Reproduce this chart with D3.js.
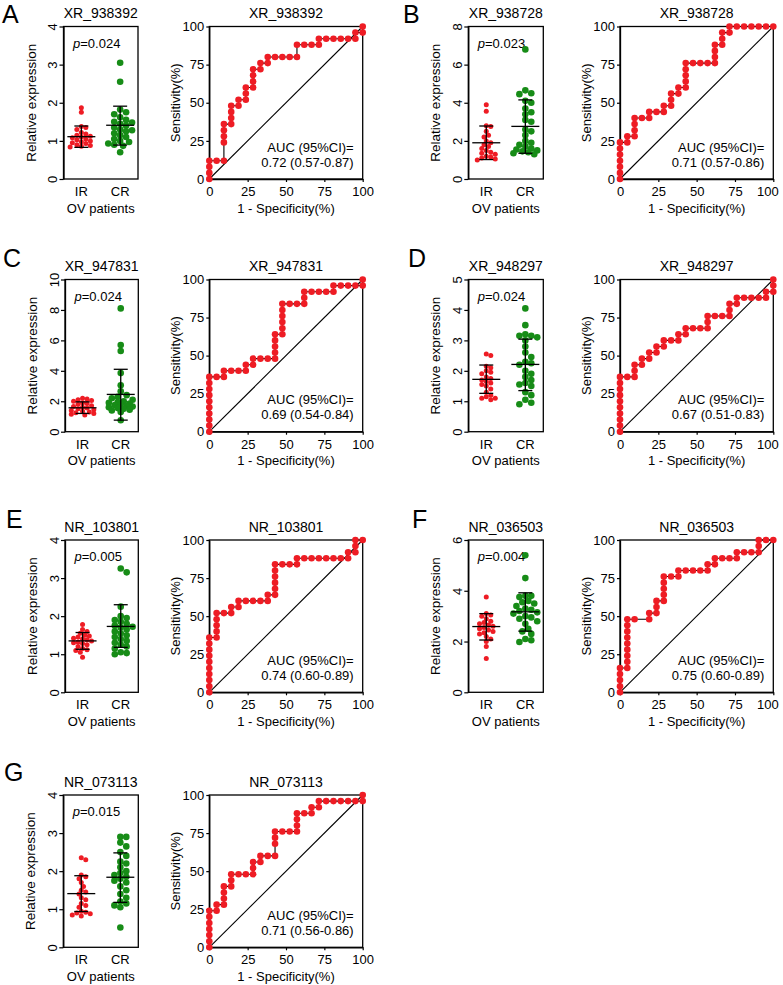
<!DOCTYPE html>
<html><head><meta charset="utf-8">
<script src="https://cdn.jsdelivr.net/npm/d3@7"></script>
<style>
body{margin:0;background:#fff}
svg{display:block}
text{font-family:"Liberation Sans",Arial,Helvetica,sans-serif;fill:#000}
</style>
</head><body>
<svg id="chart" width="783" height="985"></svg>
<script>
// ---------------- DATA ----------------
const panelLetters = ["A","B","C","D","E","F","G"];
const geneNames = ["XR_938392","XR_938728","XR_947831","XR_948297","NR_103801","NR_036503","NR_073113"];
const groupNames = ["IR","CR"];
const pValues = ["0.024","0.023","0.024","0.024","0.005","0.004","0.015"];
const aucValues = ["0.72 (0.57-0.87)","0.71 (0.57-0.86)","0.69 (0.54-0.84)","0.67 (0.51-0.83)","0.74 (0.60-0.89)","0.75 (0.60-0.89)","0.71 (0.56-0.86)"];
const exprMax = [4,8,10,5,4,6,4];
const exprStep = [1,2,2,1,1,2,1];
const rocTicks = [0,25,50,75,100];

// relative expression values
const irA = [1.87,1.75,1.38,1.35,1.3,1.22,1.18,1.15,1.12,1.1,1.08,1.05,1.03,1.0,0.98,0.95,0.93,0.9,0.88,0.86,0.84];
const crA = [3.05,2.55,1.82,1.75,1.7,1.62,1.55,1.5,1.45,1.4,1.35,1.3,1.25,1.2,1.15,1.1,1.05,1.0,0.97,0.93,0.9,0.87,1.48,1.28,0.7];
const irB = [3.9,3.55,2.8,2.75,2.5,2.3,2.2,2.0,1.9,1.8,1.7,1.6,1.5,1.4,1.35,1.3,1.2,1.15,1.1,1.05,1.0];
const crB = [6.8,4.65,4.5,4.45,4.1,4.0,3.7,3.5,3.4,3.1,3.0,2.6,2.5,2.3,2.0,1.9,1.8,1.7,1.6,1.55,1.5,1.45,1.4,1.35,1.3];
const irC = [2.2,2.15,2.1,2.05,2.0,1.9,1.85,1.8,1.7,1.65,1.6,1.55,1.5,1.45,1.4,1.35,1.3,1.25,1.2,1.15,1.1];
const crC = [8.1,5.7,5.3,3.85,3.05,2.65,2.4,2.3,2.2,2.1,2.0,1.95,1.9,1.85,1.8,1.75,1.7,1.65,1.6,1.55,1.5,1.45,1.4,1.3,0.75];
const irD = [2.55,2.5,2.15,2.1,2.0,1.95,1.9,1.8,1.75,1.7,1.65,1.6,1.55,1.5,1.4,1.3,1.2,1.15,1.1,1.1,1.05];
const crD = [4.05,3.5,3.2,3.15,3.15,3.1,3.0,2.8,2.6,2.45,2.3,2.25,2.2,2.0,1.9,1.8,1.7,1.6,1.55,1.5,1.3,1.2,1.05,0.95,0.9];
const irE = [1.78,1.65,1.6,1.55,1.5,1.48,1.45,1.42,1.4,1.38,1.35,1.32,1.3,1.28,1.25,1.2,1.15,1.12,1.1,1.05,0.92];
const crE = [3.25,3.15,2.25,2.0,1.95,1.9,1.85,1.8,1.75,1.72,1.7,1.65,1.6,1.55,1.5,1.45,1.4,1.35,1.3,1.25,1.2,1.15,1.05,1.03,1.0];
const irF = [3.75,3.1,3.05,3.0,2.9,2.8,2.75,2.7,2.65,2.6,2.55,2.5,2.45,2.4,2.35,2.3,2.2,2.1,2.0,1.8,1.33];
const crF = [5.4,4.5,3.8,3.8,3.75,3.6,3.55,3.5,3.4,3.3,3.25,3.2,3.15,3.1,3.0,2.95,2.9,2.8,2.7,2.5,2.4,2.3,2.1,2.05,1.98];
const irG = [2.35,2.3,1.9,1.85,1.8,1.7,1.6,1.5,1.45,1.4,1.3,1.25,1.15,1.1,1.05,0.95,0.92,0.9,0.88,0.85,0.82];
const crG = [2.9,2.9,2.75,2.65,2.5,2.4,2.25,2.2,2.1,2.0,1.95,1.9,1.85,1.8,1.75,1.7,1.6,1.5,1.4,1.3,1.2,1.15,1.1,1.05,0.52];

// mean, lower SD, upper SD  for [IR, CR]
const statsA = [[1.11,0.83,1.39],[1.41,0.89,1.91]];
const statsB = [[1.9,1.02,2.78],[2.76,1.35,4.15]];
const statsC = [[1.57,1.2,1.96],[2.45,0.76,4.1]];
const statsD = [[1.72,1.26,2.19],[2.21,1.35,3.04]];
const statsE = [[1.35,1.13,1.57],[1.73,1.18,2.3]];
const statsF = [[2.59,2.06,3.1],[3.17,2.41,3.92]];
const statsG = [[1.41,0.94,1.88],[1.84,1.18,2.48]];

// ROC points [1-specificity %, sensitivity %]
const rocA = [[0,0],[0,4],[0,8],[0,12],[4.76,12],[9.52,12],[9.52,24],[9.52,28],[9.52,32],[9.52,36],[14.29,36],[14.29,40],[14.29,44],[14.29,48],[19.05,48],[19.05,52],[23.81,52],[23.81,56],[23.81,60],[28.57,60],[28.57,64],[28.57,68],[28.57,72],[33.33,72],[33.33,76],[38.1,76],[38.1,80],[42.86,80],[47.62,80],[52.38,80],[57.14,80],[57.14,88],[61.9,88],[66.67,88],[71.43,88],[71.43,92],[76.19,92],[80.95,92],[85.71,92],[90.48,92],[95.24,92],[95.24,96],[100,96],[100,100]];
const rocB = [[0,0],[0,4],[0,8],[0,12],[0,16],[0,20],[0,24],[4.76,24],[4.76,28],[9.52,28],[9.52,32],[9.52,36],[9.52,40],[14.29,40],[19.05,40],[19.05,44],[23.81,44],[28.57,44],[28.57,48],[33.33,48],[33.33,52],[33.33,56],[38.1,56],[38.1,60],[42.86,60],[42.86,64],[42.86,68],[42.86,72],[42.86,76],[47.62,76],[52.38,76],[57.14,76],[61.9,76],[61.9,80],[61.9,84],[61.9,88],[66.67,88],[66.67,92],[66.67,96],[71.43,96],[71.43,100],[76.19,100],[80.95,100],[85.71,100],[90.48,100],[95.24,100],[100,100]];
const rocC = [[0,0],[0,4],[0,8],[0,12],[0,16],[0,20],[0,24],[0,28],[0,32],[0,36],[4.76,36],[9.52,36],[9.52,40],[14.29,40],[19.05,40],[23.81,40],[23.81,44],[28.57,44],[28.57,48],[33.33,48],[38.1,48],[42.86,48],[42.86,52],[42.86,56],[42.86,60],[42.86,64],[47.62,64],[47.62,68],[47.62,72],[47.62,76],[47.62,80],[47.62,84],[52.38,84],[57.14,84],[61.9,84],[61.9,88],[61.9,92],[66.67,92],[71.43,92],[76.19,92],[80.95,92],[80.95,96],[85.71,96],[90.48,96],[95.24,96],[100,96],[100,100]];
const rocD = [[0,0],[0,4],[0,8],[0,12],[0,16],[0,20],[0,24],[0,28],[0,32],[0,36],[4.76,36],[9.52,36],[9.52,40],[9.52,44],[14.29,44],[14.29,48],[19.05,48],[19.05,52],[23.81,52],[23.81,56],[28.57,56],[28.57,60],[33.33,60],[38.1,60],[38.1,64],[42.86,64],[42.86,68],[47.62,68],[52.38,68],[57.14,68],[57.14,72],[57.14,76],[61.9,76],[66.67,76],[71.43,76],[71.43,80],[71.43,84],[76.19,84],[76.19,88],[80.95,88],[85.71,88],[90.48,88],[95.24,88],[95.24,92],[100,92],[100,96],[100,100]];
const rocE = [[0,0],[0,4],[0,8],[0,12],[0,16],[0,20],[0,24],[0,28],[0,32],[0,36],[4.76,36],[4.76,40],[4.76,44],[4.76,48],[4.76,52],[9.52,52],[14.29,52],[14.29,56],[19.05,56],[19.05,60],[23.81,60],[28.57,60],[33.33,60],[38.1,60],[38.1,64],[42.86,64],[42.86,68],[42.86,72],[42.86,76],[42.86,80],[42.86,84],[47.62,84],[52.38,84],[57.14,84],[57.14,88],[61.9,88],[66.67,88],[71.43,88],[76.19,88],[80.95,88],[85.71,88],[90.48,88],[90.48,92],[95.24,92],[95.24,96],[95.24,100],[100,100]];
const rocF = [[0,0],[0,4],[0,8],[0,12],[0,16],[4.76,16],[4.76,20],[4.76,24],[4.76,28],[4.76,32],[4.76,36],[4.76,40],[4.76,44],[4.76,48],[9.52,48],[19.05,48],[19.05,52],[23.81,52],[23.81,56],[23.81,60],[28.57,60],[28.57,64],[28.57,68],[28.57,72],[28.57,76],[33.33,76],[38.1,76],[38.1,80],[42.86,80],[47.62,80],[52.38,80],[57.14,80],[57.14,84],[61.9,84],[61.9,88],[66.67,88],[71.43,88],[76.19,88],[76.19,92],[80.95,92],[85.71,92],[90.48,92],[90.48,96],[90.48,100],[95.24,100],[100,100]];
const rocG = [[0,0],[0,4],[0,8],[0,12],[0,16],[0,20],[0,24],[4.76,24],[4.76,28],[9.52,28],[9.52,32],[9.52,36],[9.52,40],[14.29,40],[14.29,44],[14.29,48],[19.05,48],[23.81,48],[28.57,48],[28.57,52],[28.57,56],[33.33,56],[33.33,60],[38.1,60],[42.86,60],[42.86,68],[42.86,72],[42.86,76],[47.62,76],[52.38,76],[57.14,76],[57.14,80],[57.14,84],[57.14,88],[61.9,88],[66.67,88],[66.67,92],[71.43,92],[71.43,96],[76.19,96],[80.95,96],[85.71,96],[90.48,96],[95.24,96],[100,96],[100,100]];

const irSets = [irA,irB,irC,irD,irE,irF,irG];
const crSets = [crA,crB,crC,crD,crE,crF,crG];
const statSets = [statsA,statsB,statsC,statsD,statsE,statsF,statsG];
const rocSets = [rocA,rocB,rocC,rocD,rocE,rocF,rocG];

// ---------------- LAYOUT ----------------
const layout = [
  {sx0:63.5, sx1:138,   rx0:209.3, rx1:362.7, top:26.5,  bottom:179,   lx:2,   ly:23},
  {sx0:468.3,sx1:543.3, rx0:620,   rx1:773.3, top:26.5,  bottom:179,   lx:403, ly:23},
  {sx0:65,   sx1:138.3, rx0:209.3, rx1:362.7, top:279.5, bottom:431.7, lx:3,   ly:267},
  {sx0:468.3,sx1:543.3, rx0:620,   rx1:773.3, top:279.5, bottom:431.7, lx:408, ly:267},
  {sx0:65,   sx1:138.3, rx0:209.3, rx1:362.7, top:540,   bottom:692.3, lx:6,   ly:528},
  {sx0:468.3,sx1:543.3, rx0:620,   rx1:773.3, top:540,   bottom:692.3, lx:412, ly:528},
  {sx0:63.3, sx1:138.3, rx0:209.3, rx1:362.7, top:795,   bottom:947.3, lx:4,   ly:781}
];
const RED = "#ee1c24", GREEN = "#178c17";
const svg = d3.select("#chart");

// horizontal spread of dots (beeswarm-like), limited width
function swarm(vals, y, r, maxW){
  const pts = vals.map(v => ({v, y:y(v)})).sort((a,b) => a.y - b.y);
  const placed = [];
  const minD = 2*r*0.85;
  const step = r*0.9;
  const cands = [0];
  for (let k = 1; k*step <= maxW; k++){ cands.push(k*step, -k*step); }
  pts.forEach(p => {
    let best = null, bestD = -1;
    for (const off of cands){
      let md = Infinity;
      placed.forEach(q => { const d = Math.hypot(off-q.dx, p.y-q.y); if (d < md) md = d; });
      if (md >= minD){ best = off; break; }
      if (md > bestD){ bestD = md; best = off; }
    }
    p.dx = best;
    placed.push(p);
  });
  return pts;
}

panelLetters.forEach((letter, i) => {
  const L = layout[i];
  const g = svg.append("g");

  g.append("text").attr("x", L.lx).attr("y", L.ly)
    .style("font-size","25px").text(letter);

  // ---------- scatter ----------
  const y = d3.scaleLinear().domain([0, exprMax[i]]).range([L.bottom, L.top]);
  const x = d3.scalePoint().domain(groupNames).range([L.sx0, L.sx1]).padding(0.46);
  const sc = g.append("g");

  sc.append("text").attr("x", (L.sx0+L.sx1)/2).attr("y", L.top - 8.5)
    .attr("text-anchor","middle").style("font-size","14px").text(geneNames[i]);

  const yAxis = d3.axisLeft(y).tickValues(d3.range(0, exprMax[i] + 0.001, exprStep[i]))
    .tickSize(4).tickSizeOuter(0).tickFormat(d3.format("d"));
  const ya = sc.append("g").attr("transform", `translate(${L.sx0},0)`).call(yAxis);
  ya.select(".domain").attr("stroke-width",1.3);
  ya.selectAll(".tick line").attr("stroke-width",1.2);
  ya.selectAll(".tick text").attr("x",0).attr("dy",0)
    .attr("transform", "translate(-6.5,0) rotate(-90)")
    .attr("text-anchor","middle").style("font-size","13px")
    .style("font-family","'Liberation Sans',Arial,sans-serif");

  sc.append("rect").attr("x",L.sx0).attr("y",L.top).attr("width",L.sx1-L.sx0).attr("height",L.bottom-L.top)
    .attr("fill","none").attr("stroke","#000").attr("stroke-width",1.3);

  groupNames.forEach((gname) => {
    sc.append("text").attr("x", x(gname)).attr("y", L.bottom + 17)
      .attr("text-anchor","middle").style("font-size","13px").text(gname);
  });
  sc.append("text").attr("x",(L.sx0+L.sx1)/2).attr("y",L.bottom+33.5)
    .attr("text-anchor","middle").style("font-size","13px").text("OV patients");
  sc.append("text").attr("transform",`translate(${L.sx0-28},${(L.top+L.bottom)/2}) rotate(-90)`)
    .attr("text-anchor","middle").style("font-size","13.5px").text("Relative expression");

  const pt = sc.append("text").attr("x", L.sx0 + 9.5).attr("y", L.top + 21).style("font-size","13px");
  pt.append("tspan").style("font-style","italic").text("p");
  pt.append("tspan").text("=" + pValues[i]);

  const groups = [irSets[i], crSets[i]];
  const radii = [2.5, 3.3];
  const widths = [12, 14];
  const colors = [RED, GREEN];
  groups.forEach((vals, gi) => {
    const cx = x(groupNames[gi]);
    const pts = swarm(vals, y, radii[gi], widths[gi]);
    sc.append("g").selectAll("circle").data(pts).join("circle")
      .attr("cx", d => cx + d.dx).attr("cy", d => d.y).attr("r", radii[gi])
      .attr("fill", colors[gi]);
    const st = statSets[i][gi];
    const halfMean = 14, halfCap = 7;
    const eb = sc.append("g").attr("stroke","#000").attr("stroke-width",1.3);
    eb.append("line").attr("x1",cx).attr("x2",cx).attr("y1",y(st[1])).attr("y2",y(st[2]));
    eb.append("line").attr("x1",cx-halfMean).attr("x2",cx+halfMean).attr("y1",y(st[0])).attr("y2",y(st[0]));
    eb.append("line").attr("x1",cx-halfCap).attr("x2",cx+halfCap).attr("y1",y(st[1])).attr("y2",y(st[1]));
    eb.append("line").attr("x1",cx-halfCap).attr("x2",cx+halfCap).attr("y1",y(st[2])).attr("y2",y(st[2]));
  });

  // ---------- ROC ----------
  const rx = d3.scaleLinear().domain([0,100]).range([L.rx0, L.rx1]);
  const ry = d3.scaleLinear().domain([0,100]).range([L.bottom, L.top]);
  const rc = g.append("g");
  rc.append("text").attr("x",(L.rx0+L.rx1)/2).attr("y",L.top-8.5)
    .attr("text-anchor","middle").style("font-size","14px").text(geneNames[i]);

  const ax = rc.append("g").attr("transform",`translate(0,${L.bottom})`)
    .call(d3.axisBottom(rx).tickValues(rocTicks).tickSize(3).tickSizeOuter(0));
  const ay = rc.append("g").attr("transform",`translate(${L.rx0},0)`)
    .call(d3.axisLeft(ry).tickValues(rocTicks).tickSize(3).tickSizeOuter(0));
  [ax, ay].forEach(a => {
    a.select(".domain").attr("stroke-width",1.3);
    a.selectAll(".tick line").attr("stroke-width",1.2);
    a.selectAll(".tick text").style("font-size","13px")
      .style("font-family","'Liberation Sans',Arial,sans-serif");
  });
  ax.selectAll(".tick text").attr("dy",0).attr("y",17)
    .attr("x", d => (d === 100 && L.rx1 > 770) ? -6 : 0);
  ay.selectAll(".tick text").attr("x",-5);

  rc.append("rect").attr("x",L.rx0).attr("y",L.top).attr("width",L.rx1-L.rx0).attr("height",L.bottom-L.top)
    .attr("fill","none").attr("stroke","#000").attr("stroke-width",1.3);

  rc.append("line").attr("x1",rx(0)).attr("y1",ry(0)).attr("x2",rx(100)).attr("y2",ry(100))
    .attr("stroke","#000").attr("stroke-width",1.1);

  rc.append("path").datum(rocSets[i])
    .attr("d", d3.line().x(d => rx(d[0])).y(d => ry(d[1])))
    .attr("fill","none").attr("stroke","#000").attr("stroke-width",1.1);
  rc.append("g").selectAll("circle").data(rocSets[i]).join("circle")
    .attr("cx", d => rx(d[0])).attr("cy", d => ry(d[1])).attr("r", 3.3).attr("fill", RED);

  rc.append("text").attr("x",L.rx1-9).attr("y",L.bottom-27.3).attr("text-anchor","end")
    .style("font-size","13px").text("AUC (95%CI)=");
  rc.append("text").attr("x",L.rx1-9).attr("y",L.bottom-12.3).attr("text-anchor","end")
    .style("font-size","13px").text(aucValues[i]);

  rc.append("text").attr("x",(L.rx0+L.rx1)/2).attr("y",L.bottom+33.5)
    .attr("text-anchor","middle").style("font-size","13px").text("1 - Specificity(%)");
  rc.append("text").attr("transform",`translate(${L.rx0-29},${(L.top+L.bottom)/2}) rotate(-90)`)
    .attr("text-anchor","middle").style("font-size","13px").text("Sensitivity(%)");
});
</script>
</body></html>
